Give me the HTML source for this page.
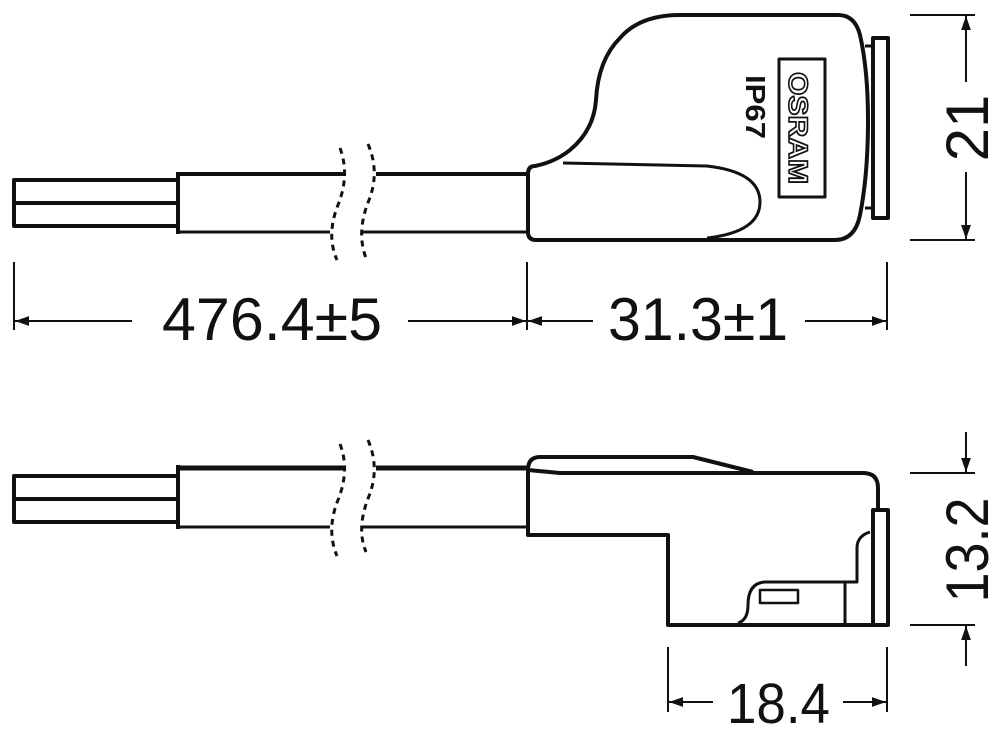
<!DOCTYPE html>
<html><head><meta charset="utf-8"><style>
html,body{margin:0;padding:0;background:#fff;}
svg{display:block;}
text{font-family:"Liberation Sans",sans-serif;fill:#111;}
</style></head><body>
<svg width="1000" height="737" viewBox="0 0 1000 737" xmlns="http://www.w3.org/2000/svg">
<defs>
<marker id="arB" viewBox="0 0 10 10" refX="10" refY="5" markerWidth="14" markerHeight="14" markerUnits="userSpaceOnUse" orient="auto-start-reverse">
<path d="M0,1.5 L10,5 L0,8.5 z" fill="#111"/>
</marker>
</defs>
<g stroke="#111" fill="none" stroke-linejoin="round">
<!-- TOP VIEW -->
<rect x="14" y="180" width="164" height="46" stroke-width="4"/>
<line x1="14" y1="203" x2="178" y2="203" stroke-width="4"/>
<line x1="178" y1="172" x2="178" y2="234" stroke-width="4"/>
<line x1="178" y1="174" x2="346" y2="174" stroke-width="4"/>
<line x1="376" y1="174" x2="528" y2="174" stroke-width="4"/>
<line x1="178" y1="232" x2="330" y2="232" stroke-width="3"/>
<line x1="362" y1="232" x2="528" y2="232" stroke-width="3"/>
<path d="M340,148 Q350,175 338,205 Q326,235 337,260" stroke-width="3" stroke-dasharray="6,5"/>
<path d="M368,144 Q380,172 369,200 Q356,232 366,258" stroke-width="3" stroke-dasharray="6,5"/>
<path d="M535,166 Q555,162 570,150 Q594,130 596,100 Q598,60 620,38 Q640,15 680,15 L838,15 Q855,15 860,35 Q868,70 868,120 Q868,175 860,215 Q855,240 835,240 L536,240 Q528,240 528,232 L528,174 Q528,166 535,166 Z" stroke-width="4"/>
<path d="M563,163 L707,166 Q760,172 760,202 Q760,232 707,238" stroke-width="3"/>
<rect x="873" y="38" width="15" height="180" stroke-width="4"/>
<path d="M865,46 L873,46 M865,208 L873,208" stroke-width="3"/>
<rect x="779" y="59" width="46" height="138" stroke-width="3"/>
<!-- dims top -->
<line x1="14" y1="262" x2="14" y2="330" stroke-width="2"/>
<line x1="527" y1="262" x2="527" y2="330" stroke-width="2"/>
<line x1="887" y1="262" x2="887" y2="330" stroke-width="2"/>
<line x1="132" y1="321" x2="15" y2="321" stroke-width="2" marker-end="url(#arB)"/>
<line x1="408" y1="321" x2="526" y2="321" stroke-width="2" marker-end="url(#arB)"/>
<line x1="593" y1="321" x2="528" y2="321" stroke-width="2" marker-end="url(#arB)"/>
<line x1="805" y1="321" x2="886" y2="321" stroke-width="2" marker-end="url(#arB)"/>
<line x1="910" y1="15" x2="975" y2="15" stroke-width="2"/>
<line x1="910" y1="240" x2="975" y2="240" stroke-width="2"/>
<line x1="966" y1="82" x2="966" y2="16" stroke-width="2" marker-end="url(#arB)"/>
<line x1="966" y1="172" x2="966" y2="239" stroke-width="2" marker-end="url(#arB)"/>

<!-- BOTTOM VIEW -->
<rect x="14" y="476" width="164" height="46" stroke-width="4"/>
<line x1="14" y1="499" x2="178" y2="499" stroke-width="4"/>
<line x1="178" y1="465" x2="178" y2="529" stroke-width="4"/>
<line x1="178" y1="468" x2="346" y2="468" stroke-width="5"/>
<line x1="376" y1="468" x2="528" y2="468" stroke-width="5"/>
<line x1="178" y1="527" x2="330" y2="527" stroke-width="3"/>
<line x1="362" y1="527" x2="528" y2="527" stroke-width="3"/>
<path d="M340,444 Q350,470 338,500 Q326,530 337,556" stroke-width="3" stroke-dasharray="6,5"/>
<path d="M368,440 Q380,468 369,496 Q356,528 366,552" stroke-width="3" stroke-dasharray="6,5"/>
<path d="M528,470 Q528,457 540,457 L693,457 L753,472" stroke-width="4"/>
<path d="M528,470 L560,473 L863,473 Q878,473 878,488 L878,510" stroke-width="4"/>
<path d="M528,470 L528,535 L668,535 L668,625 L888,625 L888,510 L873,510 L873,625" stroke-width="4"/>
<path d="M738,623 Q748,620 748,605 Q748,583 765,582 L857,582 L857,548 Q857,536 870,532" stroke-width="3"/>
<line x1="845" y1="582" x2="845" y2="625" stroke-width="3"/>
<rect x="760" y="590" width="38" height="13" stroke-width="2.5"/>
<line x1="910" y1="473" x2="975" y2="473" stroke-width="2"/>
<line x1="910" y1="625" x2="975" y2="625" stroke-width="2"/>
<line x1="966" y1="432" x2="966" y2="472" stroke-width="2" marker-end="url(#arB)"/>
<line x1="966" y1="666" x2="966" y2="626" stroke-width="2" marker-end="url(#arB)"/>
<line x1="668" y1="647" x2="668" y2="712" stroke-width="2"/>
<line x1="887" y1="647" x2="887" y2="712" stroke-width="2"/>
<line x1="713" y1="702" x2="669" y2="702" stroke-width="2" marker-end="url(#arB)"/>
<line x1="843" y1="702" x2="886" y2="702" stroke-width="2" marker-end="url(#arB)"/>
</g>
<text x="162" y="340" font-size="60" textLength="220" lengthAdjust="spacingAndGlyphs">476.4±5</text>
<text x="608" y="340" font-size="60" textLength="180" lengthAdjust="spacingAndGlyphs">31.3±1</text>
<text x="727" y="723" font-size="57" textLength="103" lengthAdjust="spacingAndGlyphs">18.4</text>
<text transform="translate(988,128) rotate(-90)" text-anchor="middle" font-size="60">21</text>
<text transform="translate(988,550) rotate(-90)" text-anchor="middle" font-size="60" textLength="105" lengthAdjust="spacingAndGlyphs">13.2</text>
<text transform="translate(789,128) rotate(90)" text-anchor="middle" font-size="27" font-weight="bold" style="fill:#fff;stroke:#111;stroke-width:1.6" textLength="112" lengthAdjust="spacingAndGlyphs">OSRAM</text>
<text transform="translate(746,107) rotate(90)" text-anchor="middle" font-size="28" font-weight="bold" textLength="64" lengthAdjust="spacingAndGlyphs">IP67</text>
</svg>
</body></html>
